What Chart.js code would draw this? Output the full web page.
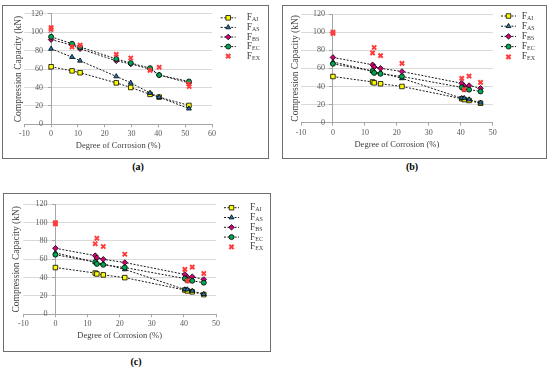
<!DOCTYPE html>
<html>
<head>
<meta charset="utf-8">
<script src="https://cdn.jsdelivr.net/npm/chart.js@4.4.0/dist/chart.umd.min.js"></script>
<style>
  body { margin: 0; background: #fff; width: 550px; height: 369px; position: relative; overflow: hidden; font-family: "Liberation Serif", serif; }
  .frame { position: absolute; border: 1px solid #6e6e6e; box-sizing: border-box; background: #fff; }
  .frame canvas { position: absolute; left: 0; top: 0; }
  .cap { position: absolute; font-weight: bold; font-size: 10px; color: #000; transform: translate(-50%, -50%); }
</style>
</head>
<body>
<div class="frame" style="left:2px;top:5px;width:267px;height:154px"><canvas id="chartA" width="265" height="152"></canvas></div>
<div class="frame" style="left:282px;top:5px;width:265px;height:154px"><canvas id="chartB" width="263" height="152"></canvas></div>
<div class="frame" style="left:3px;top:193px;width:268px;height:159px"><canvas id="chartC" width="266" height="157"></canvas></div>
<div class="cap" style="left:138px;top:166px">(a)</div>
<div class="cap" style="left:412px;top:166px">(b)</div>
<div class="cap" style="left:136px;top:361px">(c)</div>
<script>
// series names (subscripts of F)
var seriesNames = ["AI", "AS", "BS", "EC", "EX"];
var yTicks = [0, 20, 40, 60, 80, 100, 120];

// (a) degree of corrosion (%) and capacities (kN)
var corrA = [0, 7.8, 10.8, 24.3, 29.7, 36.9, 40.3, 51.4];
var aiA = [62.5, 58, 56, 45, 40, 32.5, 29.5, 20.5];
var asA = [82, 73, 69, 52, 45, 34, 29.5, 17];
var bsA = [92, 86, 82, 69, 65.5, 60, 53.5, 45];
var ecA = [95, 87.5, 84, 71, 66.5, 61, 53.5, 46.5];
var exCorrA = [0, 0, 7.8, 10.8, 24.3, 29.7, 36.9, 40.3, 51.3, 51.5];
var exA = [105, 103, 84, 86, 76, 72, 58.5, 62, 44, 41];

// (b) and (c)
var corrB = [0, 12.4, 12.9, 14.9, 21.6, 40.3, 41.1, 42.6, 46.2];
var aiB = [51, 45, 44, 43, 40, 26.5, 25.5, 24.5, 21.5];
var asB = [67, 57, 56, 55, 49, 27, 27, 25.5, 22];
var bsB = [72, 64, 61.5, 60, 56.5, 43.5, 40.5, 41, 38];
var ecB = [65, 57, 55, 54, 51, 39, 37, 36.5, 34.5];
var exCorrB = [0, 0, 12.4, 12.9, 14.9, 21.6, 40.3, 41.1, 42.6, 46.2];
var exB = [100, 98.5, 77, 83, 74, 65.5, 49, 36.5, 51.5, 44.5];

var styles = [
  { fill: "#ffff00", shape: "rect", r: 3.2, line: true },
  { fill: "#1f78b4", shape: "triangle", r: 2.8, line: true },
  { fill: "#d4007a", shape: "rectRot", r: 2.8, line: true },
  { fill: "#00a651", shape: "circle", r: 2.5, line: true },
  { fill: "#ff3b3b", shape: "crossRot", r: 3, line: false }
];

function pts(xs, ys) {
  return ys.map(function (y, i) { return { x: xs[i], y: y }; });
}

function buildSets(xs, exXs, series, ex) {
  var all = series.map(function (ys) { return pts(xs, ys); });
  all.push(pts(exXs, ex));
  return all.map(function (d, i) {
    var s = styles[i];
    return {
      label: "F" + seriesNames[i],
      data: d,
      showLine: s.line,
      borderColor: "#1a1a1a",
      borderWidth: 1,
      borderDash: [2, 1.5],
      pointStyle: s.shape,
      pointRadius: s.r,
      pointBackgroundColor: s.fill,
      pointBorderColor: i === 4 ? s.fill : "#000",
      pointBorderWidth: i === 4 ? 2 : 0.8,
      order: 5 - i
    };
  });
}

var sideLegend = {
  id: "sideLegend",
  afterDraw: function (chart, args, o) {
    var ctx = chart.ctx, ca = chart.chartArea;
    ctx.save();
    chart.data.datasets.forEach(function (ds, i) {
      var s = styles[i];
      var y = ca.top + o.y0 + i * o.dy;
      var x1 = ca.right + o.lineX, x2 = x1 + 15;
      if (s.line) {
        ctx.strokeStyle = "#1a1a1a";
        ctx.lineWidth = 1;
        ctx.setLineDash([2, 1.5]);
        ctx.beginPath(); ctx.moveTo(x1, y); ctx.lineTo(x2, y); ctx.stroke();
        ctx.setLineDash([]);
      }
      ctx.fillStyle = s.fill;
      ctx.strokeStyle = i === 4 ? s.fill : "#000";
      ctx.lineWidth = i === 4 ? 2 : 0.8;
      Chart.helpers.drawPoint(ctx, { pointStyle: s.shape, radius: s.r, borderWidth: ctx.lineWidth, rotation: 0 }, (x1 + x2) / 2, y);
      ctx.fillStyle = "#404040";
      ctx.textBaseline = "middle";
      ctx.textAlign = "left";
      ctx.font = "9.5px 'Liberation Serif'";
      var tx = ca.right + o.textX;
      ctx.fillText("F", tx, y);
      var w = ctx.measureText("F").width;
      ctx.font = "6px 'Liberation Serif'";
      ctx.fillText(seriesNames[i], tx + w, y + 2);
    });
    ctx.restore();
  }
};

function makeChart(id, xs, exXs, series, ex, xMax, L) {
  new Chart(document.getElementById(id), {
    type: "scatter",
    data: { datasets: buildSets(xs, exXs, series, ex) },
    plugins: [sideLegend],
    options: {
      responsive: false,
      animation: false,
      layout: { padding: { left: 0, right: L.padRight, top: L.padTop, bottom: 0 } },
      plugins: {
        legend: { display: false },
        tooltip: { enabled: false },
        sideLegend: L.legend
      },
      scales: {
        x: {
          type: "linear",
          min: -10, max: xMax,
          ticks: { stepSize: 10, color: "#595959", font: { family: "Liberation Serif", size: 8 }, padding: 2 },
          grid: { drawOnChartArea: false, color: "#a6a6a6", tickLength: 3 },
          border: { color: "#a6a6a6" },
          title: { display: true, text: "Degree of Corrosion (%)", color: "#404040", font: { family: "Liberation Serif", size: 8.5 }, padding: { top: 0, bottom: L.xTitlePad } },
          afterFit: function (s) { s.height = L.xHeight; }
        },
        y: {
          type: "linear",
          position: { x: 0 },
          min: 0, max: 120,
          afterBuildTicks: function (s) { s.ticks = yTicks.map(function (v) { return { value: v }; }); },
          ticks: {
            color: "#595959", font: { family: "Liberation Serif", size: 8 },
            callback: function (v) { return v + "    "; }
          },
          grid: { color: "#d9d9d9", tickLength: 3, tickColor: "#a6a6a6" },
          border: { color: "#a6a6a6" }
        },
        yTitle: {
          type: "linear",
          axis: "y",
          position: "left",
          ticks: { display: false },
          grid: { display: false },
          border: { display: false },
          title: { display: true, text: "Compression Capacity (kN)", color: "#404040", font: { family: "Liberation Serif", size: 9.5 }, padding: { top: L.yTitlePad, bottom: 0 } },
          afterFit: function (s) { s.width = L.yWidth; }
        }
      }
    }
  });
}

makeChart("chartA", corrA, exCorrA, [aiA, asA, bsA, ecA], exA, 60, {
  padRight: 56, padTop: 6.7, xHeight: 33.7, xTitlePad: 7.2, yWidth: 21.3, yTitlePad: 9.6,
  legend: { lineX: 8.7, textX: 34.7, y0: 4, dy: 9.6 }
});
makeChart("chartB", corrB, exCorrB, [aiB, asB, bsB, ecB], exB, 50, {
  padRight: 53.3, padTop: 8, xHeight: 35.3, xTitlePad: 7.9, yWidth: 18, yTitlePad: 7,
  legend: { lineX: 8.3, textX: 29, y0: 2, dy: 10.2 }
});
makeChart("chartC", corrB, exCorrB, [aiB, asB, bsB, ecB], exB, 50, {
  padRight: 54, padTop: 10.3, xHeight: 36.7, xTitlePad: 9.9, yWidth: 19.3, yTitlePad: 7,
  legend: { lineX: 8, textX: 34, y0: 3.4, dy: 9.8 }
});
</script>
</body>
</html>
